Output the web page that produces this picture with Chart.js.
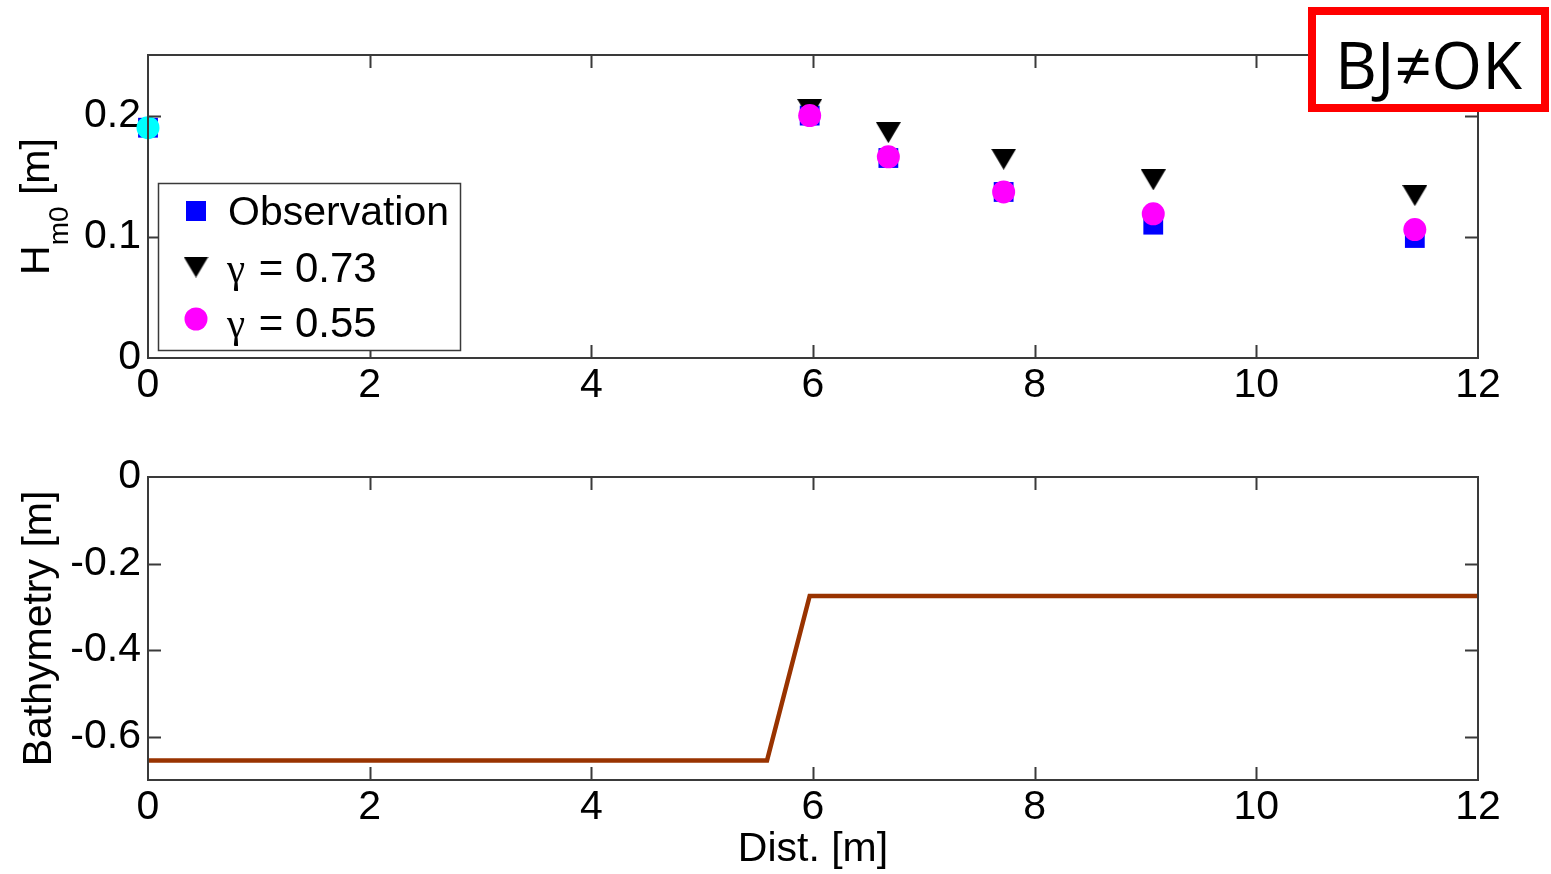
<!DOCTYPE html>
<html>
<head>
<meta charset="utf-8">
<script src="https://cdn.jsdelivr.net/npm/chart.js@4.4.1/dist/chart.umd.min.js"></script>
<style>
  html, body { margin: 0; padding: 0; background: #fff; width: 1551px; height: 874px; overflow: hidden; }
  #wavePanel { position: absolute; left: 0; top: 0; width: 1551px; height: 420px; }
  #bedPanel { position: absolute; left: 0; top: 420px; width: 1551px; height: 454px; }
  #tag {
    position: absolute; left: 1308px; top: 7px; width: 241px; height: 105px;
    box-sizing: border-box; border: 8px solid #ff0000; background: #fff;
    font-family: 'Open Sans', 'DejaVu Sans', sans-serif; font-size: 65px; color: #000;
    display: flex; align-items: center; justify-content: center; padding-top: 8px;
  }
</style>
</head>
<body>
<div id="wavePanel"><canvas id="waveChart" width="1551" height="420"></canvas></div>
<div id="bedPanel"><canvas id="bedChart" width="1551" height="454"></canvas></div>
<div id="tag">BJ≠OK</div>
<script>
// Measured significant wave height along the flume
const obsDist = [0, 5.97, 6.68, 7.72, 9.07, 11.43];
const obsHm0 = [0.190, 0.200, 0.165, 0.137, 0.110, 0.099];

// Model results at the gauge stations for two breaker parameters
const stationDist = [5.97, 6.68, 7.72, 9.07, 11.43];
const hm0Gamma073 = [0.205, 0.186, 0.164, 0.147, 0.134];
const hm0Gamma055 = [0.200, 0.166, 0.137, 0.119, 0.106];

// Incoming wave height at the boundary
const boundaryDist = [0];
const boundaryHm0 = [0.190];

// Bed profile (step)
const bedDist = [0, 5.585, 5.97, 12];
const bedLevel = [-0.655, -0.655, -0.275, -0.275];

// Tick values
const distTicks = [0, 2, 4, 6, 8, 10, 12];
const hm0Ticks = [0, 0.1, 0.2];
const bedTicks = [-0.6, -0.4, -0.2, 0];

const FONT = "'Liberation Sans', Arial, sans-serif";
const SERIF = "'Liberation Serif', 'Times New Roman', serif";
const FS = 41;
const AXIS_COLOR = '#3a3a3a';

const toPts = (xs, ys) => xs.map((x, i) => ({ x, y: ys[i] }));

// Downward triangle marker, centred on its bounding box
function makeTriangle(w, h, color) {
  const c = document.createElement('canvas');
  c.width = w; c.height = h;
  const g = c.getContext('2d');
  g.fillStyle = color;
  g.beginPath();
  g.moveTo(0, 0); g.lineTo(w, 0); g.lineTo(w / 2, h);
  g.closePath();
  g.fill();
  return c;
}
const triMarker = makeTriangle(25, 21, '#000000');

// Box around the axes with inward ticks on all four sides
const boxFrame = {
  id: 'boxFrame',
  afterDatasetsDraw(chart) {
    const { ctx, chartArea: a, scales } = chart;
    const tl = 13;
    ctx.save();
    ctx.strokeStyle = AXIS_COLOR;
    ctx.lineWidth = 2;
    ctx.beginPath();
    scales.x.ticks.forEach(t => {
      const px = Math.round(scales.x.getPixelForValue(t.value)) + 0.5;
      if (px <= a.left + 1 || px >= a.right - 1) return;
      ctx.moveTo(px, a.bottom); ctx.lineTo(px, a.bottom - tl);
      ctx.moveTo(px, a.top); ctx.lineTo(px, a.top + tl);
    });
    scales.y.ticks.forEach(t => {
      const py = Math.round(scales.y.getPixelForValue(t.value)) + 0.5;
      if (py <= a.top + 1 || py >= a.bottom - 1) return;
      ctx.moveTo(a.left, py); ctx.lineTo(a.left + tl, py);
      ctx.moveTo(a.right, py); ctx.lineTo(a.right - tl, py);
    });
    ctx.stroke();
    ctx.strokeRect(a.left, a.top, a.right - a.left, a.bottom - a.top);
    ctx.restore();
  }
};

// Legend box inside the wave-height axes
const waveLegend = {
  id: 'waveLegend',
  afterDraw(chart) {
    const ctx = chart.ctx;
    const ds = chart.data.datasets;
    ctx.save();
    ctx.fillStyle = '#fff';
    ctx.fillRect(158, 183, 302, 167);
    ctx.strokeStyle = AXIS_COLOR;
    ctx.lineWidth = 1.5;
    ctx.strokeRect(158.5, 183.5, 302, 167);

    const mx = 196;
    // square
    ctx.fillStyle = ds[0].backgroundColor;
    ctx.fillRect(mx - 10, 201, 20, 20);
    // downward triangle
    ctx.drawImage(triMarker, mx - triMarker.width / 2, 267 - triMarker.height / 2);
    // circle
    ctx.fillStyle = ds[2].backgroundColor;
    ctx.beginPath();
    ctx.arc(mx, 319, 11.5, 0, Math.PI * 2);
    ctx.fill();

    ctx.fillStyle = '#000';
    ctx.textBaseline = 'alphabetic';
    ctx.textAlign = 'left';
    ctx.font = `${FS}px ${FONT}`;
    ctx.fillText(ds[0].label, 228, 225);
    [[ds[1].label, 282], [ds[2].label, 337]].forEach(([lab, by]) => {
      const parts = lab.split(' ');
      ctx.font = `${FS}px ${SERIF}`;
      ctx.fillText(parts[0], 227, by);
      const w = ctx.measureText(parts[0]).width;
      ctx.font = `${FS + 1}px ${FONT}`;
      ctx.fillText(' ' + parts.slice(1).join(' '), 229 + w, by);
    });
    ctx.restore();
  }
};

// Y-axis title with subscript: H_m0 [m]
const hm0Title = {
  id: 'hm0Title',
  afterDraw(chart) {
    const ctx = chart.ctx;
    const a = chart.chartArea;
    const cy = (a.top + a.bottom) / 2;
    const big = `${FS}px ${FONT}`;
    const small = `28px ${FONT}`;
    ctx.save();
    ctx.translate(49, cy);
    ctx.rotate(-Math.PI / 2);
    ctx.fillStyle = '#000';
    ctx.textBaseline = 'alphabetic';
    ctx.textAlign = 'left';
    ctx.font = big; const w1 = ctx.measureText('H').width;
    ctx.font = small; const w2 = ctx.measureText('m0').width;
    ctx.font = big; const w3 = ctx.measureText(' [m]').width;
    let x = -(w1 + w2 + w3) / 2;
    ctx.font = big; ctx.fillText('H', x, 0); x += w1;
    ctx.font = small; ctx.fillText('m0', x, 19); x += w2;
    ctx.font = big; ctx.fillText(' [m]', x, 0);
    ctx.restore();
  }
};

function xAxis(height, title) {
  return {
    type: 'linear', min: 0, max: 12,
    grid: { display: false, drawTicks: false },
    border: { display: false },
    afterBuildTicks: s => { s.ticks = distTicks.map(v => ({ value: v })); },
    afterFit: s => { s.height = height; },
    ticks: {
      font: { family: FONT, size: FS }, color: '#000', padding: 3,
      maxRotation: 0, autoSkip: false, callback: v => String(v)
    },
    title: title
  };
}

function yAxis(min, max, tickVals, title) {
  return {
    type: 'linear', min, max,
    grid: { display: false, drawTicks: false },
    border: { display: false },
    afterBuildTicks: s => { s.ticks = tickVals.map(v => ({ value: v })); },
    afterFit: s => { s.width = 148; },
    ticks: {
      font: { family: FONT, size: FS }, color: '#000', padding: 7,
      autoSkip: false, callback: v => String(Math.round(v * 10) / 10)
    },
    title: title
  };
}

new Chart(document.getElementById('waveChart'), {
  type: 'scatter',
  data: {
    datasets: [
      {
        label: 'Observation', data: toPts(obsDist, obsHm0), order: 3,
        pointStyle: 'rect', pointRadius: 14, pointHoverRadius: 14,
        backgroundColor: '#0000ff', borderColor: '#0000ff', borderWidth: 0, clip: false
      },
      {
        label: 'γ = 0.73', data: toPts(stationDist, hm0Gamma073), order: 2,
        pointStyle: triMarker, pointRadius: 12, pointHoverRadius: 12,
        backgroundColor: '#000000', borderColor: '#000000', borderWidth: 0, clip: false
      },
      {
        label: 'γ = 0.55', data: toPts(stationDist, hm0Gamma055), order: 1,
        pointStyle: 'circle', pointRadius: 11.5, pointHoverRadius: 11.5,
        backgroundColor: '#ff00ff', borderColor: '#ff00ff', borderWidth: 0, clip: false
      },
      {
        label: 'Boundary', data: toPts(boundaryDist, boundaryHm0), order: 0,
        pointStyle: 'circle', pointRadius: 11.5, pointHoverRadius: 11.5,
        backgroundColor: '#00ffff', borderColor: '#00ffff', borderWidth: 0, clip: false
      }
    ]
  },
  options: {
    responsive: false, animation: false, events: [],
    layout: { padding: { left: 0, right: 73, top: 55, bottom: 0 } },
    plugins: { legend: { display: false }, tooltip: { enabled: false } },
    scales: {
      x: xAxis(62, { display: false }),
      y: yAxis(0, 0.25, hm0Ticks, { display: false })
    }
  },
  plugins: [boxFrame, waveLegend, hm0Title]
});

new Chart(document.getElementById('bedChart'), {
  type: 'line',
  data: {
    datasets: [{
      label: 'Bathymetry', data: toPts(bedDist, bedLevel),
      borderColor: '#993300', backgroundColor: '#993300', borderWidth: 4.5,
      pointRadius: 0, tension: 0, fill: false
    }]
  },
  options: {
    responsive: false, animation: false, events: [],
    layout: { padding: { left: 0, right: 73, top: 57, bottom: 0 } },
    plugins: { legend: { display: false }, tooltip: { enabled: false } },
    scales: {
      x: xAxis(94, {
        display: true, text: 'Dist. [m]', color: '#000',
        font: { family: FONT, size: FS }, padding: { top: 0, bottom: 0 }
      }),
      y: yAxis(-0.7, 0, bedTicks, {
        display: true, text: 'Bathymetry [m]', color: '#000',
        font: { family: FONT, size: FS }, padding: { top: 15, bottom: 0 }
      })
    }
  },
  plugins: [boxFrame]
});
</script>
</body>
</html>
